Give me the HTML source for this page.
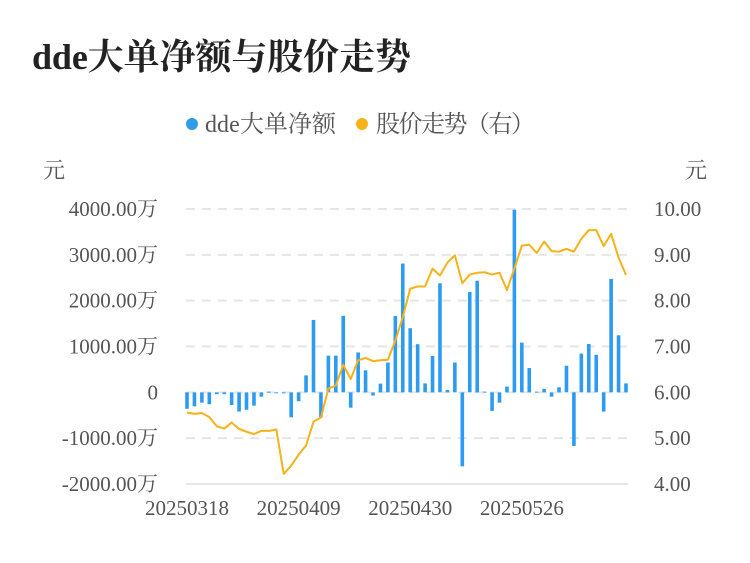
<!DOCTYPE html>
<html><head><meta charset="utf-8"><style>
body{margin:0;background:#fff;}
svg text{font-family:"Liberation Serif","Noto Serif CJK SC",serif;}
</style></head><body>
<svg width="750" height="558" viewBox="0 0 750 558" xmlns="http://www.w3.org/2000/svg">
<text x="32" y="69" font-size="36" font-weight="bold" fill="#222" textLength="379">dde大单净额与股价走势</text>
<g>
<g><circle cx="192" cy="124" r="6" fill="#2d9bef"/><text x="205" y="132" font-size="24" fill="#555" textLength="131">dde大单净额</text></g>
<g><circle cx="362" cy="124" r="6" fill="#f5b21a"/><text x="376" y="132" font-size="24" fill="#555" textLength="159">股价走势（右）</text></g>
</g>
<text x="54" y="178" font-size="22" fill="#555" text-anchor="middle">元</text>
<text x="696" y="178" font-size="22" fill="#555" text-anchor="middle">元</text>
<g id="grid"></g><g id="bars"></g><g id="line"></g><g id="axes"></g>
</svg>
<script>
const dates=["20250318","20250319","20250320","20250321","20250324","20250325","20250326","20250327","20250328","20250331","20250401","20250402","20250403","20250407","20250408","20250409","20250410","20250411","20250414","20250415","20250416","20250417","20250418","20250421","20250422","20250423","20250424","20250425","20250428","20250429","20250430","20250506","20250507","20250508","20250509","20250512","20250513","20250514","20250515","20250516","20250519","20250520","20250521","20250522","20250523","20250526","20250527","20250528","20250529","20250530","20250603","20250604","20250605","20250606","20250609","20250610","20250611","20250612","20250613","20250616"];
const ddeValues=[-360,-305,-225,-260,-40,-40,-275,-420,-380,-290,-95,15,-10,-10,-545,-195,370,1580,-545,800,800,1670,-335,870,480,-70,190,650,1665,2810,1400,1050,195,795,2380,50,650,-1615,2190,2435,15,-405,-225,125,3985,1085,530,15,75,-95,110,580,-1170,845,1055,820,-420,2475,1245,195];
const priceValues=[5.56,5.53,5.55,5.46,5.26,5.21,5.34,5.20,5.14,5.09,5.16,5.16,5.19,4.22,4.40,4.64,4.84,5.36,5.45,6.08,6.15,6.60,6.29,6.70,6.75,6.68,6.70,6.71,7.13,7.64,8.26,8.31,8.31,8.70,8.55,8.83,8.99,8.38,8.57,8.61,8.62,8.57,8.61,8.23,8.70,9.20,9.22,9.04,9.29,9.08,9.07,9.13,9.07,9.35,9.54,9.54,9.19,9.46,8.94,8.56];
const leftTicks=["4000.00万","3000.00万","2000.00万","1000.00万","0","-1000.00万","-2000.00万"];
const leftTickValues=[4000,3000,2000,1000,0,-1000,-2000];
const rightTicks=["10.00","9.00","8.00","7.00","6.00","5.00","4.00"];
const rightTickValues=[10,9,8,7,6,5,4];
const NS="http://www.w3.org/2000/svg";
const X0=187,X1=626,YT=209,YB=484;
const xs=i=>X0+(X1-X0)*i/(dates.length-1);
const yl=v=>YB-(v+2000)/6000*(YB-YT);
const yr=v=>YB-(v-4)/6*(YB-YT);
function mk(tag,attrs,parent){const e=document.createElementNS(NS,tag);for(const k in attrs)e.setAttribute(k,attrs[k]);parent.appendChild(e);return e;}
const grid=document.getElementById('grid'),bars=document.getElementById('bars'),line=document.getElementById('line'),axes=document.getElementById('axes');
leftTickValues.forEach((v,i)=>{
 const y=yl(v);
 const g=mk('line',{x1:186,x2:628,y1:y,y2:y,stroke:'#e6e6e6','stroke-width':2,'stroke-dasharray':v===-2000?'':'9,7'},grid);
 
 
 const t=mk('text',{x:158,y:y+7,'font-size':21,fill:'#555','text-anchor':'end'},axes);t.textContent=leftTicks[i];
 
 
});
rightTickValues.forEach((v,i)=>{
 const t=mk('text',{x:654,y:yr(v)+7,'font-size':21,fill:'#555'},axes);t.textContent=rightTicks[i];
 
 
});
dates.forEach((d,i)=>{
 if(i%15===0){const t=mk('text',{x:xs(i),y:515,'font-size':21,fill:'#555','text-anchor':'middle'},axes);t.textContent=d;
 
 }
});
ddeValues.forEach((v,i)=>{
 const y0=yl(0),y=yl(v);
 const r=mk('rect',{x:xs(i)-1.8,y:Math.min(y,y0),width:3.6,height:Math.max(1,Math.abs(y-y0)),fill:'#2d9bef'},bars);
 
 
});
const p=mk('polyline',{points:priceValues.map((v,i)=>xs(i)+','+yr(v)).join(' '),fill:'none',stroke:'#f5b21a','stroke-width':2,'stroke-linejoin':'round'},line);


</script>
</body></html>
